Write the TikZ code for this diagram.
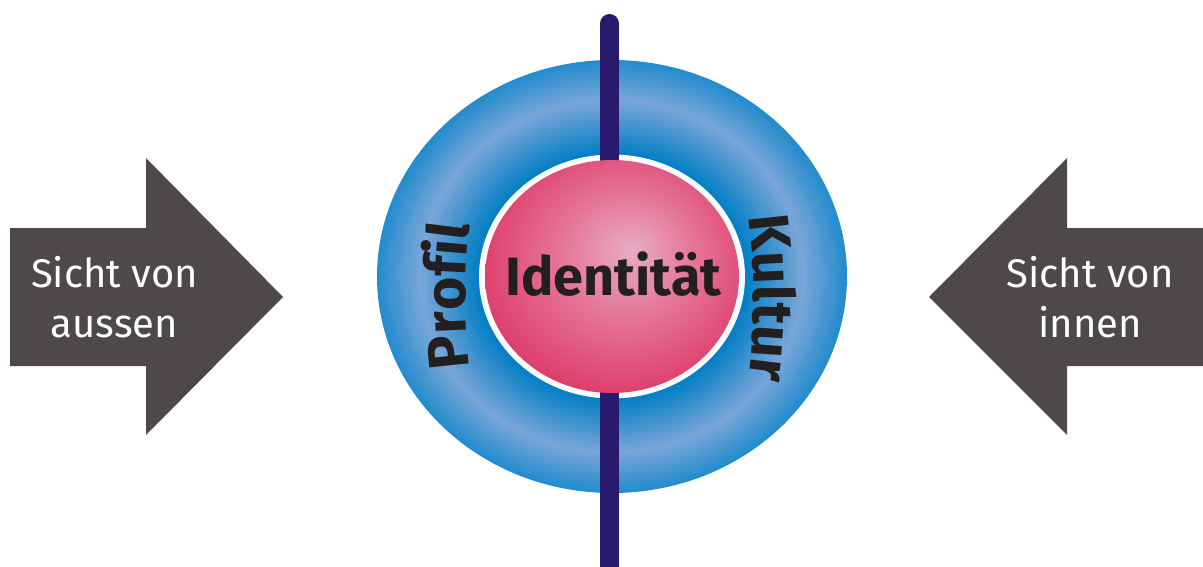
\documentclass[tikz,border=0pt]{standalone}
\usepackage{fontspec}
\setmainfont{Fira Sans}
\usetikzlibrary{decorations.text}
\definecolor{arrowgray}{RGB}{77,73,72}
\definecolor{barblue}{RGB}{42,26,110}
\definecolor{ringOuter}{RGB}{35,140,205}
\definecolor{ringLight}{RGB}{122,166,216}
\definecolor{ringInner}{RGB}{0,126,196}
\definecolor{pinkC}{RGB}{232,172,196}
\definecolor{pinkM}{RGB}{229,118,152}
\definecolor{pinkE}{RGB}{220,48,96}
\definecolor{textblack}{RGB}{35,31,32}
\pgfdeclareradialshading{pinkball}{\pgfpoint{4bp}{6bp}}{color(0bp)=(pinkC); color(13bp)=(pinkM); color(32bp)=(pinkE); color(50bp)=(pinkE)}
\newcommand{\ringword}{\fontsize{57}{60}\selectfont\bfseries}
\tikzset{
  viewarrow/.style={fill=arrowgray},
  viewtext/.style={text=white, align=center, font=\fontsize{40}{50}\selectfont, inner sep=0pt},
  coretext/.style={text=textblack, font=\fontsize{54}{60}\selectfont\bfseries, inner sep=0pt},
  axisbar/.style={line width=19pt, draw=barblue, line cap=round}
}
\begin{document}
\begin{tikzpicture}[x=1pt,y=-1pt]
\useasboundingbox (0,0) rectangle (1203,567);
\clip (0,0) rectangle (1203,567);
% arrows
\fill[viewarrow] (10,228) -- (146,228) -- (146,158) -- (283,297) -- (146,435) -- (146,366) -- (10,366) -- cycle;
\fill[viewarrow] (1203,228) -- (1067,228) -- (1067,158) -- (929,297) -- (1067,435) -- (1067,366) -- (1203,366) -- cycle;
\node[viewtext, anchor=base] (aussen) at (114.5,337) {Sicht von\\aussen};
\node[viewtext, anchor=base] (innen) at (1090,337) {Sicht von\\innen};
% ring
\foreach \i in {0,...,60}{
  \pgfmathsetmacro\t{\i/60}
  \pgfmathsetmacro\rx{235-\t*102}
  \pgfmathsetmacro\ry{216.5-\t*94.5}
  \ifdim \t pt<0.42pt
    \pgfmathsetmacro\m{\t/0.42*100}
    \colorlet{rc}{ringLight!\m!ringOuter}
  \else
    \pgfmathsetmacro\m{(\t-0.42)/0.58*100}
    \colorlet{rc}{ringInner!\m!ringLight}
  \fi
  \fill[rc] (612,276.5) ellipse [x radius=\rx pt, y radius=\ry pt];
}
\fill[white] (612,276.5) ellipse [x radius=133pt, y radius=122pt];
\coordinate (bartop) at (609.5,23.5);
\coordinate (barbot) at (609.5,620);
\draw[axisbar] (bartop) -- (barbot);
\shade[shading=pinkball] (612,276.5) ellipse [x radius=127pt, y radius=116.5pt];
\node[coretext, anchor=base] (ident) at (613.5,295) {Identität};
% curved words
\path[decorate, decoration={text along path, text align=center, text color=textblack,
  text={|\ringword|Profil}}] (472,379) .. controls (463,331) and (463,262) .. (472,213);
\path[decorate, decoration={text along path, text align=center, text color=textblack,
  text={|\ringword|Kultur}}] (747,209) .. controls (756,262) and (756,333) .. (747,387);
\end{tikzpicture}
\end{document}
